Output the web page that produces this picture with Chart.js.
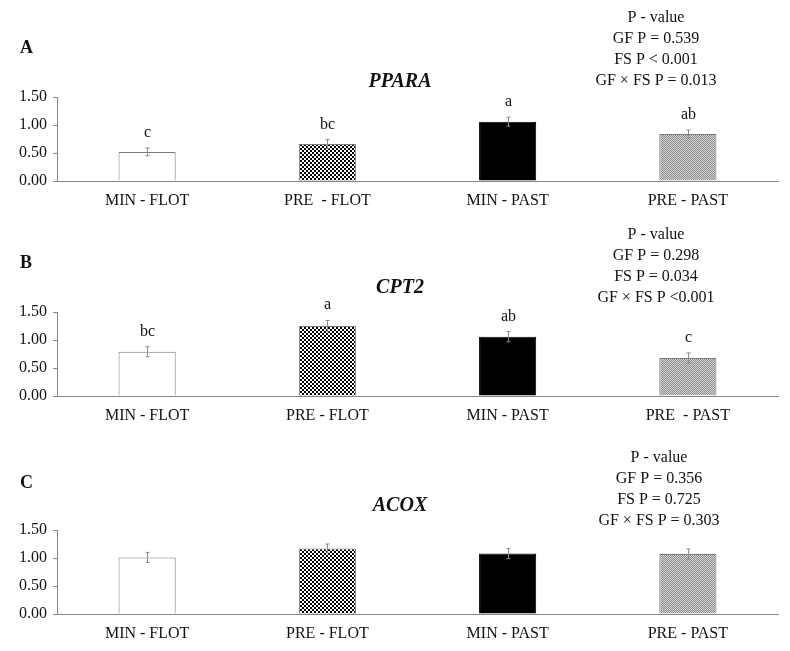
<!DOCTYPE html>
<html lang="en">
<head>
<meta charset="UTF-8">
<title>PPARA CPT2 ACOX</title>
<script src="https://cdn.jsdelivr.net/npm/chart.js@4/dist/chart.umd.min.js"></script>
<style>
  body { margin: 0; background: #fff; }
  #wrap { position: relative; width: 790px; height: 651px; }
  canvas { position: absolute; left: 0; }
</style>
</head>
<body>
<div id="wrap">
  <canvas id="chartA" width="790" height="217" style="top:0px"></canvas>
  <canvas id="chartB" width="790" height="217" style="top:215px"></canvas>
  <canvas id="chartC" width="790" height="217" style="top:433px"></canvas>
</div>

<script>
// data
var groupsA = ['MIN - FLOT', 'PRE  - FLOT', 'MIN - PAST', 'PRE - PAST'];
var groupsB = ['MIN - FLOT', 'PRE - FLOT', 'MIN - PAST', 'PRE  - PAST'];
var groupsC = ['MIN - FLOT', 'PRE - FLOT', 'MIN - PAST', 'PRE - PAST'];
var yTicks = [0, 0.5, 1.0, 1.5];

var ppara = [0.52, 0.66, 1.06, 0.84];
var pparaErr = [0.07, 0.08, 0.08, 0.07];
var pparaLetters = ['c', 'bc', 'a', 'ab'];
var pparaP = ['P - value', 'GF P = 0.539', 'FS P < 0.001', 'GF \u00d7 FS P = 0.013'];

var cpt2 = [0.79, 1.25, 1.06, 0.68];
var cpt2Err = [0.09, 0.10, 0.09, 0.09];
var cpt2Letters = ['bc', 'a', 'ab', 'c'];
var cpt2P = ['P - value', 'GF P = 0.298', 'FS P = 0.034', 'GF \u00d7 FS P <0.001'];

var acox = [1.01, 1.17, 1.08, 1.07];
var acoxErr = [0.09, 0.08, 0.09, 0.09];
var acoxLetters = ['', '', '', ''];
var acoxP = ['P - value', 'GF P = 0.356', 'FS P = 0.725', 'GF \u00d7 FS P = 0.303'];

(function(){
    var serif = '"Liberation Serif", "Times New Roman", serif';
    var textCol = '#111111';
    var axisCol = '#868686';

    function checker(){
        var c = document.createElement('canvas');
        c.width = 4; c.height = 4;
        var g = c.getContext('2d');
        g.fillStyle = '#fff'; g.fillRect(0, 0, 4, 4);
        g.fillStyle = '#000';
        g.fillRect(0, 0, 2, 2); g.fillRect(2, 2, 2, 2);
        return g.createPattern(c, 'repeat');
    }
    function hatch(){
        var c = document.createElement('canvas');
        c.width = 2; c.height = 2;
        var g = c.getContext('2d');
        g.fillStyle = '#d6d6d6'; g.fillRect(0, 0, 2, 2);
        g.fillStyle = '#8a8a8a';
        g.fillRect(0, 0, 1, 1); g.fillRect(1, 1, 1, 1);
        return g.createPattern(c, 'repeat');
    }

    // error bars, letters and the text blocks
    var extras = {
        id: 'extras',
        afterDatasetsDraw: function(chart){
            var o = chart.options.plugins.extras;
            var ctx = chart.ctx, x = chart.scales.x, y = chart.scales.y;
            var vals = chart.data.datasets[0].data;
            ctx.save();
            ctx.strokeStyle = '#8a8a8a';
            ctx.lineWidth = 1;
            ctx.fillStyle = textCol;
            ctx.font = '16px ' + serif;
            ctx.textAlign = 'center';
            ctx.textBaseline = 'alphabetic';
            vals.forEach(function(v, i){
                var cx = Math.round(x.getPixelForValue(i)) + 0.5;
                var top = y.getPixelForValue(v + o.err[i]);
                var bot = y.getPixelForValue(v - o.err[i]);
                ctx.beginPath();
                ctx.moveTo(cx, top); ctx.lineTo(cx, bot);
                ctx.moveTo(cx - 2, top); ctx.lineTo(cx + 2, top);
                ctx.moveTo(cx - 2, bot); ctx.lineTo(cx + 2, bot);
                ctx.stroke();
                if (o.letters[i]) ctx.fillText(o.letters[i], cx, top - 11);
            });
            // panel letter
            ctx.textAlign = 'left';
            ctx.textBaseline = 'middle';
            ctx.font = 'bold 18px ' + serif;
            ctx.fillText(o.panel, 20, o.panelY);
            // gene name
            ctx.textAlign = 'center';
            ctx.font = 'italic bold 20px ' + serif;
            ctx.fillText(o.gene, 400, o.geneY);
            // p-values
            ctx.font = '16px ' + serif;
            o.pText.forEach(function(t, k){
                ctx.fillText(t, o.pX, o.pY + k * 20.8);
            });
            ctx.restore();
        }
    };

    function draw(id, labels, values, err, letters, panel, gene, pText, pos){
        var ctx = document.getElementById(id).getContext('2d');
        return new Chart(ctx, {
            type: 'bar',
            data: {
                labels: labels,
                datasets: [{
                    data: values,
                    backgroundColor: ['#ffffff', checker(), '#000000', hatch()],
                    borderColor: ['#7a7a7a', '#7a7a7a', '#000000', '#7a7a7a'],
                    borderWidth: 1,
                    barPercentage: 0.317,
                    categoryPercentage: 1.0
                }]
            },
            options: {
                responsive: false,
                animation: false,
                devicePixelRatio: 1,
                layout: { padding: { top: 97, right: 12, left: 0, bottom: 0 } },
                plugins: {
                    legend: { display: false },
                    tooltip: { enabled: false },
                    extras: {
                        err: err, letters: letters, panel: panel, gene: gene, pText: pText,
                        panelY: pos.panelY, geneY: pos.geneY, pX: pos.pX, pY: pos.pY
                    }
                },
                scales: {
                    x: {
                        grid: { display: true, drawOnChartArea: false, drawTicks: false },
                        border: { display: true, color: axisCol, width: 1 },
                        ticks: { color: textCol, font: { family: serif, size: 16 }, padding: 10, maxRotation: 0 },
                        afterFit: function(s){ s.height = 36; }
                    },
                    y: {
                        min: 0, max: 1.5,
                        afterBuildTicks: function(s){ s.ticks = yTicks.map(function(v){ return { value: v }; }); },
                        grid: { display: true, drawOnChartArea: false, drawTicks: true, tickLength: 4, color: axisCol },
                        border: { display: true, color: axisCol, width: 1 },
                        ticks: {
                            color: textCol, font: { family: serif, size: 16 }, padding: 6,
                            callback: function(v){ return Number(v).toFixed(2); }
                        },
                        afterFit: function(s){ s.width = 57; }
                    }
                }
            },
            plugins: [extras]
        });
    }

    draw('chartA', groupsA, ppara, pparaErr, pparaLetters, 'A', 'PPARA', pparaP,
         { panelY: 48, geneY: 82, pX: 656, pY: 18 });
    draw('chartB', groupsB, cpt2, cpt2Err, cpt2Letters, 'B', 'CPT2', cpt2P,
         { panelY: 48, geneY: 73, pX: 656, pY: 20 });
    draw('chartC', groupsC, acox, acoxErr, acoxLetters, 'C', 'ACOX', acoxP,
         { panelY: 50, geneY: 73, pX: 659, pY: 25 });
})();
</script>
</body>
</html>
